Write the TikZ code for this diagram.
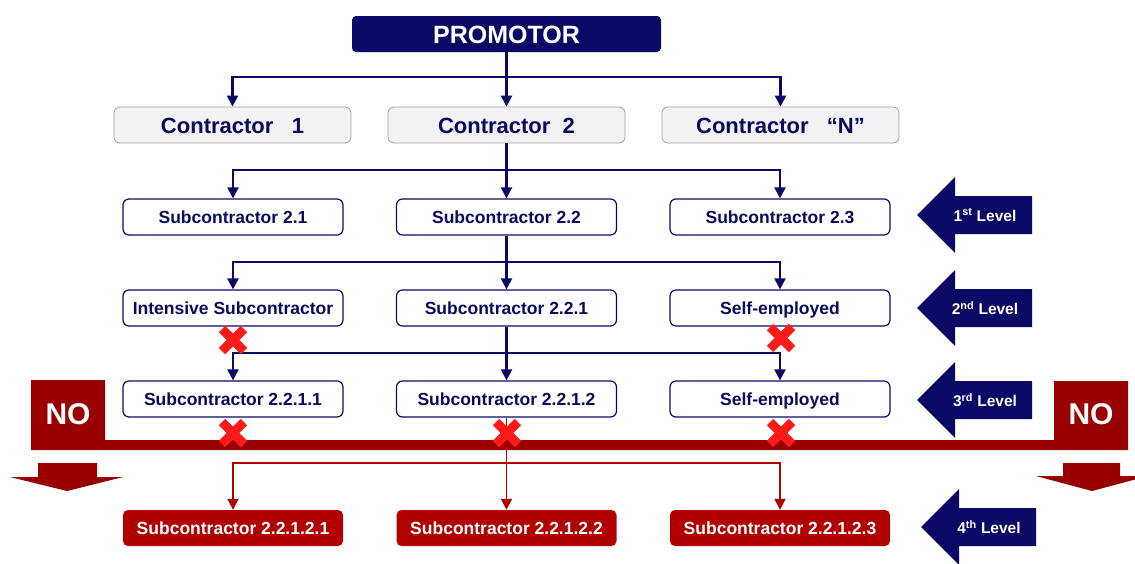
\documentclass[tikz,border=0pt]{standalone}
\usepackage{fontspec}
\setmainfont{Liberation Sans}
\usetikzlibrary{arrows.meta}
\definecolor{navy}{HTML}{0A0A66}
\definecolor{navytext}{HTML}{0A0A5C}
\definecolor{barred}{HTML}{990000}
\definecolor{boxred}{HTML}{B00000}
\definecolor{xred}{HTML}{FF1A1A}
\definecolor{cfill}{HTML}{F2F2F5}
\definecolor{cdraw}{HTML}{A0A0A8}
\tikzset{
  promo/.style={rectangle, rounded corners=4pt, fill=navy, text=white, font=\fontsize{25}{28}\selectfont\bfseries, minimum width=309pt, minimum height=36pt, inner sep=0pt, text height=18pt, text depth=0pt},
  contr/.style={rectangle, rounded corners=6pt, fill=cfill, draw=cdraw, line width=0.8pt, text=navytext, font=\fontsize{22}{24}\selectfont\bfseries, minimum width=237pt, minimum height=36pt, inner sep=0pt, text height=16pt, text depth=0pt},
  subbox/.style={rectangle, rounded corners=6pt, fill=white, draw=navy, line width=1.2pt, text=navytext, font=\fontsize{17.5}{19}\selectfont\bfseries, minimum width=220pt, minimum height=36pt, inner sep=0pt, text height=12.5pt, text depth=0pt},
  redbox/.style={rectangle, rounded corners=5pt, fill=boxred, text=white, font=\fontsize{17.5}{19}\selectfont\bfseries, minimum width=220pt, minimum height=36pt, inner sep=0pt, text height=12.5pt, text depth=0pt},
  conn/.style={draw=navy, line width=2.2pt, -{Triangle[length=11pt,width=11pt]}},
  redconn/.style={draw=boxred, line width=1.8pt, -{Triangle[length=11pt,width=11pt]}},
  levtext/.style={text=white, font=\fontsize{15.5}{17}\selectfont\bfseries, inner sep=0pt},
  notext/.style={text=white, font=\fontsize{30}{32}\selectfont\bfseries, inner sep=0pt},
  xm/.style={draw=xred, line width=9pt, line cap=butt},
  xmark/.pic={\draw[xm] (-11,-11) -- (11,11) (-11,11) -- (11,-11);}
}
\begin{document}
\begin{tikzpicture}[x=1pt,y=-1pt]
\useasboundingbox (0,0) rectangle (1135,563);
\clip (0,0) rectangle (1135,563);

% nodes
\node[promo] (promo) at (506.5,34) {PROMOTOR};
\node[contr] (c1) at (232.5,125) {Contractor\ \ \ 1};
\node[contr] (c2) at (506.5,125) {Contractor\ \ 2};
\node[contr] (c3) at (780.5,125) {Contractor\ \ \ “N”};

\node[subbox] (s21) at (233,217) {Subcontractor 2.1};
\node[subbox] (s22) at (506.5,217) {Subcontractor 2.2};
\node[subbox] (s23) at (780,217) {Subcontractor 2.3};

\node[subbox] (int) at (233,308) {Intensive Subcontractor};
\node[subbox] (s221) at (506.5,308) {Subcontractor 2.2.1};
\node[subbox] (se1) at (780,308) {Self-employed};

\node[subbox] (s2211) at (233,399) {Subcontractor 2.2.1.1};
\node[subbox] (s2212) at (506.5,399) {Subcontractor 2.2.1.2};
\node[subbox] (se2) at (780,399) {Self-employed};

\node[redbox] (r1) at (233,528) {Subcontractor 2.2.1.2.1};
\node[redbox] (r2) at (506.5,528) {Subcontractor 2.2.1.2.2};
\node[redbox] (r3) at (780,528) {Subcontractor 2.2.1.2.3};

% navy connectors
\coordinate (j1) at (506.5,77);
\draw[conn] (promo) -- (c2);
\draw[conn] (j1) -| (c1);
\draw[conn] (j1) -| (c3);

\coordinate (j2) at (506.5,170);
\draw[conn] (c2) -- (s22);
\draw[conn] (j2) -| (s21);
\draw[conn] (j2) -| (s23);

\coordinate (j3) at (506.5,262);
\draw[conn] (s22) -- (s221);
\draw[conn] (j3) -| (int);
\draw[conn] (j3) -| (se1);

\coordinate (j4) at (506.5,353);
\draw[conn] (s221) -- (s2212);
\draw[conn] (j4) -| (s2211);
\draw[conn] (j4) -| (se2);

% NO bar
\fill[barred] (31,380) -- (105,380) -- (105,440) -- (1054,440) -- (1054,381)
  -- (1128,381) -- (1128,450) -- (31,450) -- cycle;
\node[notext] (noL) at (68,414) {NO};
\node[notext] (noR) at (1091,414) {NO};

% down arrows
\fill[barred] (38,463) -- (97,463) -- (97,477) -- (123,477) -- (67,491) -- (10,477) -- (38,477) -- cycle;
\fill[barred] (1063,463) -- (1120,463) -- (1120,476) -- (1148,476) -- (1092,491) -- (1036,476) -- (1063,476) -- cycle;

% red connectors
\coordinate (j5) at (506.5,463);
\draw[redconn] (s2212) -- (r2);
\draw[redconn] (j5) -| (r1);
\draw[redconn] (j5) -| (r3);

% crosses
\pic at (233,340) {xmark};
\pic at (781,338) {xmark};
\pic at (233,433) {xmark};
\pic at (507,433) {xmark};
\pic at (781,433) {xmark};

% level arrows
\fill[navy] (917,215) -- (955,177) -- (955,196) -- (1032,196) -- (1032,234) -- (955,234) -- (955,253) -- cycle;
\node[levtext] (lv1) at (985,215) {1\textsuperscript{st} Level};
\fill[navy] (917,308) -- (955,270) -- (955,289) -- (1032,289) -- (1032,327) -- (955,327) -- (955,346) -- cycle;
\node[levtext] (lv2) at (985,308) {2\textsuperscript{nd} Level};
\fill[navy] (917,400) -- (955,362) -- (955,381) -- (1032,381) -- (1032,419) -- (955,419) -- (955,438) -- cycle;
\node[levtext] (lv3) at (985,400) {3\textsuperscript{rd} Level};
\fill[navy] (921,527) -- (959,489) -- (959,508) -- (1036,508) -- (1036,546) -- (959,546) -- (959,565) -- cycle;
\node[levtext] (lv4) at (989,527) {4\textsuperscript{th} Level};
\end{tikzpicture}
\end{document}
